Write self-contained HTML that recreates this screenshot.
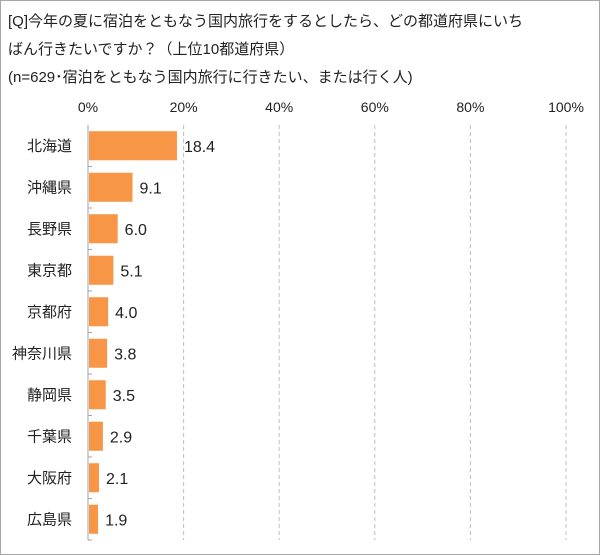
<!DOCTYPE html>
<html><head><meta charset="utf-8"><style>
body{margin:0;width:600px;height:555px;background:#fff;font-family:"Liberation Sans","Noto Sans CJK JP",sans-serif;}
#frame{position:absolute;left:0;top:0;width:598px;height:553px;border:1px solid #a6a6a6;}
.t{position:absolute;left:8px;font-size:15px;color:#222;white-space:nowrap;}
</style></head><body>
<div id="frame"></div>
<div class="t" style="top:10px">[Q]今年の夏に宿泊をともなう国内旅行をするとしたら、どの都道府県にいち</div>
<div class="t" style="top:38px">ばん行きたいですか？（上位10都道府県）</div>
<div class="t" style="top:66px">(n=629･宿泊をともなう国内旅行に行きたい、または行く人)</div>
<svg id="c" width="600" height="555" style="position:absolute;left:0;top:0"></svg>
<script>
const categories=["北海道","沖縄県","長野県","東京都","京都府","神奈川県","静岡県","千葉県","大阪府","広島県"];
const values=[18.4,9.1,6.0,5.1,4.0,3.8,3.5,2.9,2.1,1.9];
const ticks=[0,20,40,60,80,100];
const tickLabels=["0%","20%","40%","60%","80%","100%"];
const NS="http://www.w3.org/2000/svg",svg=document.getElementById('c');
const x0=88,x1=566,yTop=125,yBot=540,band=(yBot-yTop)/categories.length;
const xs=v=>x0+(x1-x0)*v/100;
function mk(t,a){const e=document.createElementNS(NS,t);for(const k in a)e.setAttribute(k,a[k]);svg.appendChild(e);return e;}
ticks.forEach((t,i)=>{
 if(i>0){const g=mk('line',{x1:xs(t),x2:xs(t),y1:yTop,y2:yBot,stroke:'#bfbfbf','stroke-dasharray':'4,3'});
 
 }
 const l=mk('text',{x:xs(t),y:112,'text-anchor':'middle','font-size':14,fill:'#222'});l.textContent=tickLabels[i];
 
 
});
const ax=mk('line',{x1:x0,x2:x0,y1:yTop,y2:yBot,stroke:'#a6a6a6'});


categories.forEach((c,i)=>{
 const cy=yTop+band*(i+0.5),h=band*0.7;
 const r=mk('rect',{x:x0+1,y:cy-h/2,width:xs(values[i])-x0,height:h,fill:'#F79646'});
 
 
 const tk=mk('line',{x1:x0,x2:x0+4,y1:yTop+band*(i+1),y2:yTop+band*(i+1),stroke:'#a6a6a6'});
 
 
 const l=mk('text',{x:72,y:cy+5,'text-anchor':'end','font-size':15,fill:'#222'});l.textContent=c;
 
 
 const v=mk('text',{x:xs(values[i])+8,y:cy+6,'font-size':16,fill:'#222'});v.textContent=values[i].toFixed(1);
 
 
});
</script>
</body></html>
